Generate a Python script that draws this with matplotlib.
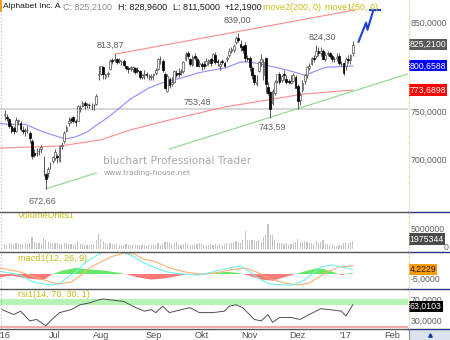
import numpy as np
import pandas as pd
import matplotlib
matplotlib.use("Agg")
import matplotlib.pyplot as plt
import matplotlib.ticker as mticker
from matplotlib.lines import Line2D
from matplotlib.patches import Rectangle

plt.rcParams['font.family'] = ['Liberation Sans', 'DejaVu Sans']

# -------------------------------------------------------------------------
# DATA (GOOGL daily bars Jun 2016 - Jan 2017)
# -------------------------------------------------------------------------
HOLIDAYS = ['2016-07-04', '2016-09-05', '2016-11-24', '2016-12-26',
            '2017-01-02', '2017-01-16', '2017-02-20']
FIRST_BAR = '2016-06-01'

opens = [
    747, 745, 743, 735, 733, 730, 740, 738, 731, 730, 731, 728, 720, 708, 708, 710, 712, 690, 687, 688, 697, 700,
    703, 705, 700, 715, 720, 730, 738, 743, 745, 741, 741, 753, 756, 760, 757, 758, 756, 757, 759, 790,
    792, 799, 788, 791, 797, 807, 807, 808, 806, 805, 806, 801, 798, 797, 797, 798, 796, 795, 788, 790, 791, 789, 788,
    790, 793, 797, 808, 806, 792, 773, 786, 780, 783, 793, 793, 794, 795, 808, 815, 808, 802, 812, 809, 803,
    803, 803, 802, 804, 808, 807, 813, 806, 800, 806, 804, 808, 813, 818, 819, 828, 833, 826, 823, 825, 810,
    810, 798, 790, 780, 795, 805, 790, 810, 777, 772, 760, 770, 784, 792, 785, 792, 786, 784, 781, 784, 788,
    778, 763, 774, 784, 790, 798, 803, 810, 812, 818, 815, 818, 809, 814, 815, 812, 808, 810, 812, 803, 804,
    800, 808, 807, 815,
]
highs = [
    752, 748, 744, 738, 735, 745, 743, 740, 735, 733, 735, 730, 722, 712, 713, 713, 716, 705, 688, 694, 699, 705,
    712, 707, 716, 719, 730, 736, 745, 745, 746, 743, 758, 757, 762, 762, 760, 760, 760, 759, 769, 800,
    801, 800, 792, 795, 808, 810, 813.87, 810, 810, 807, 808, 802, 800, 800, 800, 799, 799, 796, 792, 796, 794, 792, 791,
    793, 798, 810, 812, 808, 794, 791, 788, 788, 796, 796, 798, 797, 806, 817, 818, 810, 813, 815, 811, 807,
    805, 806, 810, 809, 810, 815, 816, 808, 806, 809, 806, 812, 821, 822, 826, 835, 839.00, 830, 825, 828, 813,
    812, 800, 792, 790, 806, 814, 808, 811, 782, 773, 775, 785, 792, 794, 790, 796, 790, 786, 790, 793, 790,
    780, 772, 785, 792, 800, 804, 811, 813, 824.30, 822, 822, 820, 816, 818, 817, 814, 811, 815, 815, 806, 805,
    811, 813, 814, 828.96,
]
lows = [
    742, 740, 733, 728, 727, 729, 736, 730, 727, 725, 728, 718, 702, 704, 705, 706, 708, 685, 672.66, 684, 692, 698,
    701, 698, 699, 712, 718, 729, 735, 738, 738, 735, 740, 750, 755, 753, 754, 754, 752, 752, 757, 785,
    790, 786, 786, 788, 796, 803, 805, 803, 804, 802, 801, 796, 793, 795, 794, 791, 793, 786, 786, 786, 787, 785, 785,
    785, 790, 796, 803, 794, 775, 772, 776, 778, 781, 788, 788, 790, 793, 806, 808, 800, 801, 807, 800, 799,
    796, 797, 801, 802, 800, 806, 803, 801, 796, 803, 799, 805, 811, 815, 816, 826, 828, 818, 815, 805, 806,
    795, 786, 779, 778, 794, 800, 785, 770, 768, 743.59, 757, 768, 781, 780, 782, 785, 780, 780, 780, 783, 776,
    753.48, 758, 772, 780, 787, 796, 802, 805, 810, 812, 812, 808, 806, 812, 810, 805, 805, 806, 802, 800, 790,
    796, 804, 803, 811.50,
]
closes = [
    748, 744, 735, 730, 730, 742, 742, 732, 730, 731, 731, 723, 705, 706, 708, 710, 714, 690, 682, 692, 697, 704,
    709, 704, 715, 716, 728, 734, 741, 742, 740, 739, 756, 754, 760, 757, 759, 757, 756, 757, 767, 791,
    800, 791, 791, 793, 806, 806, 808, 805, 807, 805, 802, 798, 797, 799, 799, 794, 795, 788, 790, 791, 790, 789, 789,
    791, 796, 808, 808, 796, 776, 789, 779, 783, 795, 790, 791, 795, 805, 814, 812, 803, 811, 810, 801, 804,
    801, 800, 806, 807, 804, 814, 805, 805, 803, 805, 800, 810, 818, 820, 824, 833, 830, 822, 819, 810, 809,
    799, 790, 783, 782, 805, 808, 805, 780, 771, 753, 773, 783, 791, 782, 789, 790, 782, 783, 784, 790, 776,
    762, 768, 781, 790, 799, 801, 810, 808, 818, 815, 818, 809, 813, 815, 812, 808, 809, 811, 804, 803, 793,
    808, 807, 813, 825.21,
]
# volume in millions of shares
volumes = [
    1.3, 1.2, 1.5, 1.4, 1.2, 1.5, 1.3, 1.4, 1.3, 1.5, 1.3, 1.6, 3.0, 1.9, 1.6, 1.5, 1.4, 2.7, 2.3, 1.9, 1.6, 1.7,
    1.6, 1.5, 1.4, 1.3, 1.6, 1.5, 1.4, 1.3, 1.2, 1.4, 2.1, 1.4, 1.3, 1.2, 1.1, 1.2, 1.3, 1.4, 2.2, 3.9,
    2.6, 2.0, 1.5, 1.3, 1.6, 1.3, 1.4, 1.3, 1.2, 1.1, 1.2, 1.3, 1.2, 1.1, 1.0, 1.1, 1.0, 1.2, 1.0, 1.1, 0.9, 1.0, 1.2,
    1.0, 1.1, 1.6, 1.2, 1.3, 1.9, 1.8, 1.5, 1.3, 1.5, 1.9, 1.2, 1.1, 1.3, 1.5, 1.3, 1.2, 1.2, 1.1, 1.4, 1.6,
    1.3, 1.2, 1.1, 1.0, 1.3, 1.2, 1.4, 1.2, 1.3, 1.2, 1.4, 1.6, 1.6, 1.5, 1.8, 2.0, 1.9, 1.6, 2.3, 4.6, 2.4,
    2.4, 2.3, 2.1, 2.0, 2.2, 1.9, 3.0, 3.5, 6.3, 3.9, 3.5, 2.4, 1.9, 1.6, 1.7, 1.4, 1.5, 1.2, 1.4, 1.5, 1.9,
    2.5, 1.9, 1.8, 2.0, 1.9, 1.6, 1.7, 1.4, 2.0, 1.7, 1.8, 2.4, 1.3, 1.3, 1.1, 1.0, 0.8, 0.9, 1.0, 1.1, 1.6,
    1.9, 1.5, 1.8, 1.975344,
]

# moving averages, sampled along the curves (trading day since FIRST_BAR)
ma50_day = [-2, 2, 9, 12, 17, 21, 25, 27, 31, 36, 40, 45, 49, 55, 63, 68, 77, 85, 91, 96, 103, 107, 113, 120, 126, 131, 140, 149, 152]
ma50_val = [738, 737, 737, 734, 729, 726, 723, 722, 724, 729, 736, 744, 752, 764, 776, 781, 787, 793, 796, 798, 805, 805, 802, 798, 794, 790, 799, 800, 800.66]
ma200_day = [-2, 24, 42, 55, 72, 96, 117, 130, 152]
ma200_val = [712.7, 714.7, 721.0, 731.3, 741.6, 755.3, 763.8, 769.2, 773.69]

# drawn trend lines
upper_day = [48, 153]
upper_val = [813.87, 866.6]
support1_day = [18, 40]
support1_val = [672.66, 688.0]
support2_day = [72, 176]
support2_val = [711.7, 791.5]
level_line = 753.48
forecast_day = [154.5, 157.8, 158.4, 161.0]
forecast_val = [828.5, 851.1, 842.7, 866.6]
forecast_top_day = [159.3, 164.0]
forecast_top_val = [866.6, 866.6]

pivot_day = [18, 48, 102, 116, 136]
pivot_val = [672.66, 813.87, 839.00, 743.59, 824.30]

# indicators
macd_day = [-2, 7, 12, 20, 24, 27, 31, 34, 37, 42, 47, 52, 57, 60, 66, 71, 77, 85, 94, 100, 103, 107, 112, 116, 122, 126, 131, 138, 143, 149, 152]
macd_val = [2.5, -1, -7, -10, -9, -3.6, 1.8, 8, 13, 19, 22, 20, 15, 11, 5.5, 1.8, 0, -1, 3.6, 6.4, 7.3, 1.8, -5.5, -9, -10, -10, -5.5, 6.4, 8.2, 5.5, 4.2]
signal_day = [-2, 7, 12, 20, 24, 29, 33, 37, 42, 47, 52, 57, 60, 66, 72, 79, 85, 92, 98, 105, 110, 115, 122, 128, 133, 140, 146, 152]
signal_val = [5.5, 1.8, -1.8, -7.3, -9, -7.3, -1.8, 5.5, 11, 16, 19, 18, 14, 11, 5.5, 1.8, 0, 1, 3.6, 5.5, 1.8, -3.6, -8.2, -10, -8.2, 1, 6.4, 7.3]
hist_day = [-2, 3, 10, 17, 21, 25, 31, 38, 44, 50, 53, 58, 64, 70, 75, 80, 86, 92, 97, 102, 106, 112, 117, 122, 127, 132, 137, 142, 147, 150, 152]
hist_val = [-3, -1.5, -4, -5.5, 0, 3, 5.5, 4, 3, 1, 0, -3, -5, -4, -2, 0, -1, 1, 2, 1, -1, -5, -6, -3, 0, 3, 5.5, 3, -1, 0.5, 1]
macd_last = 4.2229

rsi_day = [-1, 4, 7, 11, 14, 18, 20, 24, 29, 33, 37, 41, 43, 48, 52, 56, 61, 64, 66, 69, 72, 77, 81, 85, 91, 96, 98, 101, 104, 109, 112, 115, 117, 120, 125, 129, 133, 138, 142, 147, 149, 152]
rsi_val = [53, 43, 50, 30, 33, 20, 30, 47, 53, 63, 67, 73, 75, 72, 70, 60, 50, 53, 47, 60, 47, 53, 57, 47, 47, 50, 60, 63, 57, 33, 30, 43, 27, 37, 37, 33, 43, 55, 53, 50, 40, 63]
rsi_last = 63.0103

month_labels = ["'16", "Jul", "Aug", "Sep", "Okt", "Nov", "Dez", "'17", "Feb"]
month_dates = ['2016-06-01', '2016-07-01', '2016-08-01', '2016-09-01', '2016-10-01',
               '2016-11-01', '2016-12-01', '2017-01-01', '2017-02-01']

# -------------------------------------------------------------------------
# LAYOUT (pixel geometry of the 450x340 canvas)
# -------------------------------------------------------------------------
W, H = 450, 340
SPLIT = 408
XLIM = (-2.0, 176.1)
TEXT_GRAY = '#606060'
LABEL_YELLOW = '#c8bc14'

days = pd.bdate_range(FIRST_BAR, '2017-03-31', freq='C', holidays=HOLIDAYS)
x = np.arange(len(closes))

fig = plt.figure(figsize=(W / 100, H / 100), dpi=100)


def fx(px):
    return px / W


def fy(py):
    return 1 - py / H


def add_panel(top, bottom):
    a = fig.add_axes([0, fy(bottom), fx(SPLIT), (bottom - top) / H])
    a.set_xlim(*XLIM)
    a.set_xticks([])
    a.set_yticks([])
    for s in a.spines.values():
        s.set_visible(False)
    return a


def right_label(a, val, txt, color=TEXT_GRAY, xpos=1.007, ha='left'):
    a.text(xpos, val, txt, transform=a.get_yaxis_transform(), ha=ha, va='center',
           fontsize=6.3, color=color, clip_on=False)


def value_box(a, val, txt, bg, fg='white'):
    a.text(1.004, val, txt, transform=a.get_yaxis_transform(), ha='left', va='center',
           fontsize=6.3, color=fg, clip_on=False, zorder=10,
           bbox=dict(boxstyle='square,pad=0.12', fc=bg, ec='none'))


# ---- price panel --------------------------------------------------------
ax = add_panel(0, 211)
ax.set_yscale('log')
ax.set_ylim(651.9, 878.9)
ax.yaxis.set_major_locator(mticker.NullLocator())
ax.yaxis.set_minor_locator(mticker.NullLocator())

ax.axhline(level_line, color='#cfcfcf', lw=1.2, zorder=1)
ax.plot(ma200_day, ma200_val, color='#ff8a8a', lw=0.8, zorder=2)
ax.plot(ma50_day, ma50_val, color='#8c8cff', lw=0.8, zorder=2)
ax.plot(upper_day, upper_val, color='#ff8a8a', lw=0.8, zorder=2)
ax.plot(support1_day, support1_val, color='#8ad88a', lw=0.8, zorder=2)
ax.plot(support2_day, support2_val, color='#8ad88a', lw=0.8, zorder=2)

o, h, l, c = (np.array(v, dtype=float) for v in (opens, highs, lows, closes))
up = c >= o
ax.vlines(x, l, h, color='#404040', lw=0.6, zorder=3)
ax.bar(x[up], c[up] - o[up], bottom=o[up], width=0.75, color='white',
       edgecolor='#505050', lw=0.5, zorder=4)
ax.bar(x[~up], o[~up] - c[~up], bottom=c[~up], width=0.75, color='black',
       edgecolor='black', lw=0.5, zorder=4)

ax.plot(forecast_day, forecast_val, color='#2040d8', lw=1.5, zorder=5)
ax.plot(forecast_top_day, forecast_top_val, color='#2040d8', lw=1.5, zorder=5)

pivot_offsets = {18: (-3, -12), 48: (-4, 9), 102: (-1, 12), 116: (2, -9), 136: (6, 8)}
for d, v in zip(pivot_day, pivot_val):
    dx, dy = pivot_offsets[d]
    ax.annotate(f"{v:.2f}".replace('.', ','), (d, v), xytext=(dx, dy), textcoords='offset pixels',
                ha='center', va='center', fontsize=6.5, color=TEXT_GRAY)
ax.annotate(f"{level_line:.2f}".replace('.', ','), (84, level_line), xytext=(0, 6),
            textcoords='offset pixels', ha='center', va='center', fontsize=6.5, color=TEXT_GRAY)

# watermark
ax.text(103 / SPLIT, 1 - 161 / 211, 'bluchart Professional Trader', family='DejaVu Sans',
        fontsize=7.6, color='#a8a8a8', ha='left', va='center', transform=ax.transAxes)
ax.text(104 / SPLIT, 1 - 173 / 211, 'www.trading-house.net', family='DejaVu Sans',
        fontsize=5.4, color='#9a9a9a', ha='left', va='center', transform=ax.transAxes)

for val in (850, 750, 700):
    right_label(ax, val, f"{val},0000")
value_box(ax, closes[-1], f"{closes[-1]:.4f}".replace('.', ','), '#5a5a5a')
value_box(ax, ma50_val[-1], '800,6588', '#0000ff')
value_box(ax, ma200_val[-1], '773,6898', '#ff0000')

# title line
title_parts = [("Alphabet Inc. A", 3, '#1a1a1a', 6.1), ("C: 825,2100", 63, '#8c8c8c', 6.5),
               ("H: 828,9600", 118, '#1a1a1a', 6.5), ("L: 811,5000", 173, '#1a1a1a', 6.5),
               ("+12,1900", 225, '#1a1a1a', 6.5), ("move2(200, 0)", 263, LABEL_YELLOW, 6.5),
               ("move1(50, 0)", 325, LABEL_YELLOW, 6.5)]
for txt, px, col, size in title_parts:
    fig.text(fx(px), fy(7), txt, fontsize=size, color=col, ha='left', va='center')

# ---- volume panel -------------------------------------------------------
axv = add_panel(212, 251)
axv.set_ylim(-0.37, 9.15)
axv.bar(x, volumes, width=0.5, color='#c4c4c4', zorder=2)
axv.text(6, 8.2, 'VolumeUnits1', fontsize=6.6, color=LABEL_YELLOW, va='center')
right_label(axv, 5.0, '5000000')
right_label(axv, 0.5, '0', xpos=448 / SPLIT, ha='right')
value_box(axv, 2.55, f"{int(round(volumes[-1] * 1e6))}", '#4a4a4a')

# ---- macd panel ---------------------------------------------------------
axm = add_panel(252, 288)
axm.set_ylim(-12.7, 20)
hd = np.array(hist_day, dtype=float)
hv = np.array(hist_val, dtype=float)
axm.fill_between(hd, 0, hv, where=hv >= 0, interpolate=True, color='#66e866', lw=0, zorder=1)
axm.fill_between(hd, 0, hv, where=hv < 0, interpolate=True, color='#ff7878', lw=0, zorder=1)
axm.plot(signal_day, signal_val, color='#ffb070', lw=0.8, zorder=2)
axm.plot(macd_day, macd_val, color='#70f0f0', lw=0.8, zorder=2)
axm.text(6, 14.5, 'macd1(12, 26, 9)', fontsize=6.6, color=LABEL_YELLOW, va='center')
right_label(axm, 5, '5,0000')
right_label(axm, -5, '-5,0000')
value_box(axm, macd_last, '4,2229', '#ff9a00', fg='#202020')

# ---- rsi panel ----------------------------------------------------------
axr = add_panel(289, 329)
axr.set_ylim(13.4, 95.4)
axr.axhspan(63.5, 74.8, color='#b4f4b4', lw=0, zorder=1)
axr.axhspan(16, 19.5, color='#f4a8a8', lw=0, zorder=1)
axr.plot(rsi_day, rsi_val, color='#505050', lw=0.7, zorder=2)
axr.text(6, 85, 'rsi1(14, 70, 30, 1)', fontsize=6.6, color=LABEL_YELLOW, va='center')
right_label(axr, 73, '70,0000')
right_label(axr, 30, '30,0000')
value_box(axr, 59, '63,0103', '#000000')

# ---- date strip ---------------------------------------------------------
axd = add_panel(329, 340)
axd.set_ylim(0, 1)
for lab, d in zip(month_labels, month_dates):
    pos = days.searchsorted(pd.Timestamp(d))
    axd.text(pos, 0.45, lab, fontsize=6.6, color='#505050', ha='center', va='center')

# ---- frame lines --------------------------------------------------------
for py in (211.5, 251.5, 288.5, 329):
    fig.add_artist(Line2D([0, fx(SPLIT)], [fy(py), fy(py)], color='#555555', lw=1))
    fig.add_artist(Line2D([fx(SPLIT), 1], [fy(py), fy(py)], color='#27357a', lw=1))
fig.add_artist(Line2D([fx(SPLIT + 0.5)] * 2, [fy(0), fy(329)], color='#e8c888', lw=0.8, ls=(0, (1, 1))))
fig.add_artist(Line2D([fx(0.6)] * 2, [fy(14), fy(329)], color='#b0b0b0', lw=0.8, ls=(0, (1, 2))))
fig.add_artist(Rectangle((fx(409), 0), 1 - fx(409), fy(329.5), color='#dde3ee', lw=0))
fig.add_artist(Line2D([fx(SPLIT + 0.5)] * 2, [0, fy(329)], color='#909090', lw=0.8))
fig.add_artist(Line2D([fx(430)], [fy(334.5)], marker='^', ms=2.5, color='#1a3a9a', lw=0))
fig.add_artist(Rectangle((0, fy(12)), fx(2), 12 / H, color='#f0a020', lw=0))

fig.savefig('out.png', dpi=100)
